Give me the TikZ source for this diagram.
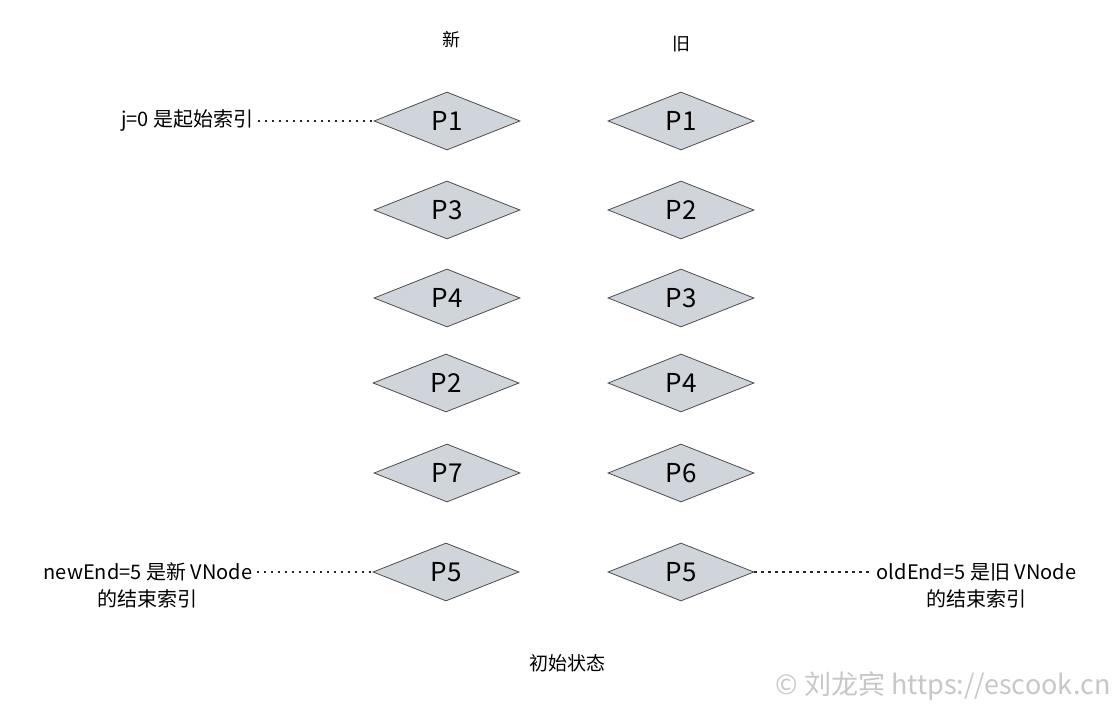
\documentclass[tikz,border=0pt]{standalone}
\usepackage{fontspec}
\setmainfont{Noto Sans CJK SC}
\usetikzlibrary{shapes.geometric,positioning}
\definecolor{vnodefill}{HTML}{D0D4DB}
\definecolor{vnodeline}{HTML}{4D4D4D}

\begin{document}
\begin{tikzpicture}[x=0.5pt,y=-0.5pt,
    vnode/.style={diamond,draw=vnodeline,fill=vnodefill,aspect=2.5,
      minimum width=73pt,minimum height=29pt,inner sep=0pt,
      font=\fontsize{13}{15}\selectfont},
    note/.style={font=\fontsize{10}{12}\selectfont,inner sep=2pt,align=center},
    pointer/.style={dash pattern=on 1.1pt off 2.4pt,line width=0.8pt,black!85}]
  \useasboundingbox (0,0) rectangle (1119,706);

  % column headers
  \node[note,font=\fontsize{9}{11}\selectfont] (newhead) at (451,40) {新};
  \node[note,font=\fontsize{9}{11}\selectfont] (oldhead) at (681,44) {旧};

  % new children
  \node[vnode] (n1) at (447,121) {P1};
  \node[vnode] (n2) at (447,210) {P3};
  \node[vnode] (n3) at (447,298) {P4};
  \node[vnode] (n4) at (446,383) {P2};
  \node[vnode] (n5) at (447,473) {P7};
  \node[vnode] (n6) at (446,572) {P5};

  % old children
  \node[vnode] (o1) at (681,121) {P1};
  \node[vnode] (o2) at (681,210) {P2};
  \node[vnode] (o3) at (681,298) {P3};
  \node[vnode] (o4) at (681,383) {P4};
  \node[vnode] (o5) at (681,473) {P6};
  \node[vnode] (o6) at (681,572) {P5};

  % index pointers
  \node[note,left=58pt of n1] (jstart) {j=0 是起始索引};
  \draw[pointer] (jstart) -- (n1);

  \node[note,left=58pt of n6] (newend) {newEnd=5 是新 VNode};
  \node[note,below=0pt of newend] (newendsub) {的结束索引};
  \draw[pointer] (newend) -- (n6);

  \node[note,right=59pt of o6] (oldend) {oldEnd=5 是旧 VNode};
  \node[note,below=0pt of oldend] (oldendsub) {的结束索引};
  \draw[pointer] (o6) -- (oldend);

  \node[note,font=\fontsize{9.5}{11}\selectfont] (caption) at (567,663) {初始状态};
  \node[font=\fontsize{13.5}{15}\selectfont,text=black!22] (mark) at (943,686)
    {© 刘龙宾 https://escook.cn};
\end{tikzpicture}
\end{document}
